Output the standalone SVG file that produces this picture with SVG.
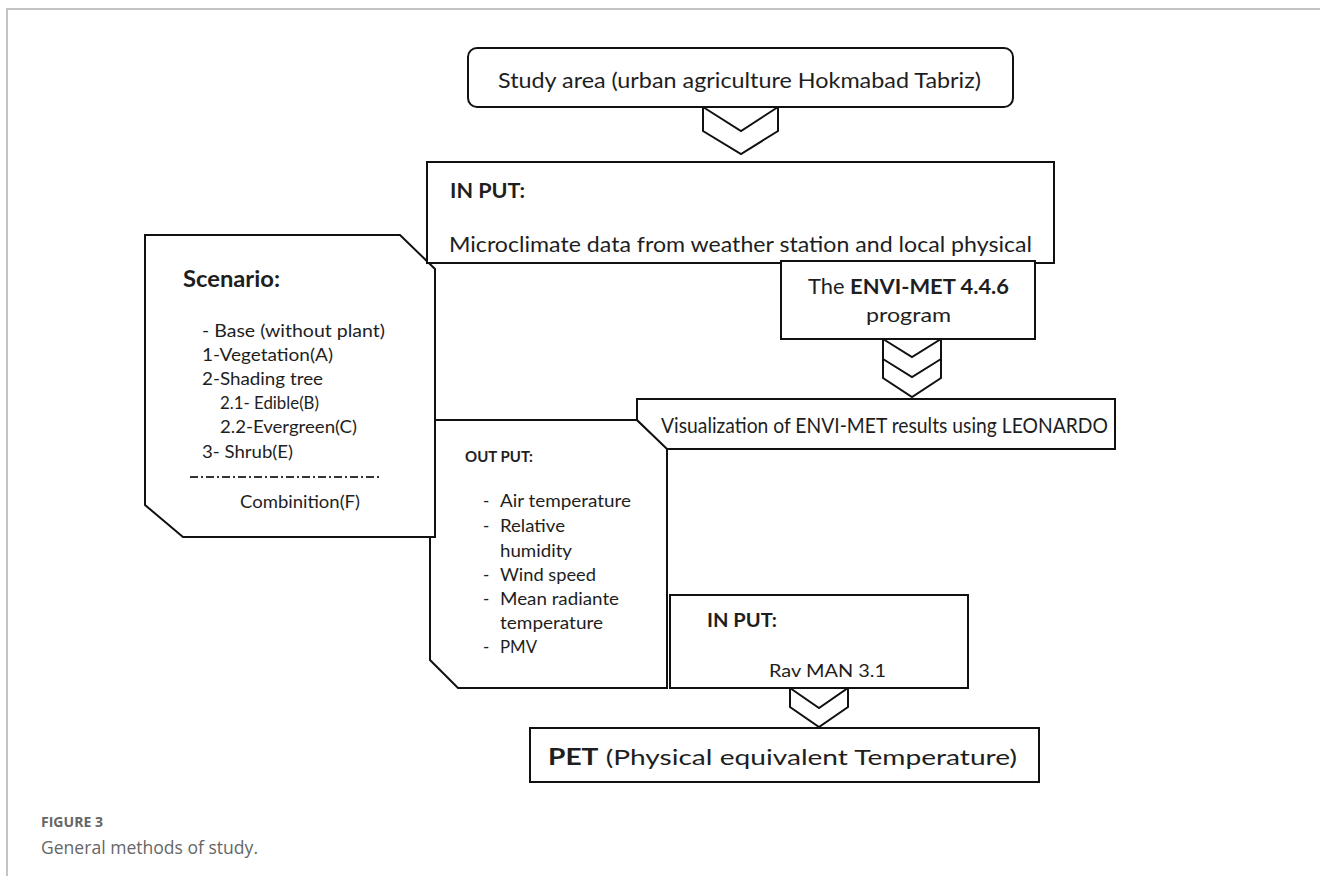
<svg xmlns="http://www.w3.org/2000/svg" width="1320" height="876" viewBox="0 0 1320 876">
<style>
.box{fill:#fff;stroke:#111;stroke-width:2;stroke-linejoin:miter}
.chev{fill:#fff;stroke:#111;stroke-width:2;stroke-linejoin:miter}
.t{font-family:Lato,"Liberation Sans",Arial,sans-serif;fill:#1e1e1e}
.b{font-weight:bold}
.cap{font-family:"Open Sans","Liberation Sans",sans-serif;fill:#666}
</style>
<rect width="1320" height="876" fill="#fff"/>
<path d="M7,876 V9 H1320" fill="none" stroke="#c4c4c4" stroke-width="2"/>

<g id="connectors">
<polygon class="chev" points="703,107 741,131 778,107 778,131 741,154 703,131"/>
<polygon class="chev" points="883,339 912,357 941,339 941,378 912,397 883,378"/>
<polyline class="chev" fill="none" points="883,359 912,377 941,359"/>
<polygon class="chev" points="790,688 819,708 848,688 848,707 819,727 790,707"/>
</g>

<g id="study">
<rect class="box" x="468" y="48" width="545" height="59" rx="9"/>
<text class="t" x="498" y="88" font-size="22" textLength="483" lengthAdjust="spacingAndGlyphs">Study area (urban agriculture Hokmabad Tabriz)</text>
</g>

<g id="scenario">
<polygon class="box" points="145,235 400,235 435,269 435,537 183,537 145,505"/>
<text class="t b" x="183" y="287" font-size="22" textLength="97" lengthAdjust="spacingAndGlyphs">Scenario:</text>
<text class="t" x="202" y="337" font-size="17" textLength="183" lengthAdjust="spacingAndGlyphs">-  Base (without plant)</text>
<text class="t" x="202" y="361" font-size="17" textLength="131" lengthAdjust="spacingAndGlyphs">1-Vegetation(A)</text>
<text class="t" x="202" y="385" font-size="17" textLength="121" lengthAdjust="spacingAndGlyphs">2-Shading tree</text>
<text class="t" x="220" y="409" font-size="17" textLength="99" lengthAdjust="spacingAndGlyphs">2.1- Edible(B)</text>
<text class="t" x="220" y="433" font-size="17" textLength="137" lengthAdjust="spacingAndGlyphs">2.2-Evergreen(C)</text>
<text class="t" x="202" y="458" font-size="17" textLength="91" lengthAdjust="spacingAndGlyphs">3- Shrub(E)</text>
<line x1="190" y1="477" x2="380" y2="477" stroke="#333" stroke-width="2" stroke-dasharray="8,3,2,3"/>
<text class="t" x="240" y="508" font-size="17" textLength="120" lengthAdjust="spacingAndGlyphs">Combinition(F)</text>
</g>

<g id="input">
<rect class="box" x="427" y="162" width="627" height="101"/>
<text class="t b" x="450" y="198" font-size="20" textLength="75" lengthAdjust="spacingAndGlyphs">IN PUT:</text>
<text class="t" x="449" y="252" font-size="22" textLength="583" lengthAdjust="spacingAndGlyphs">Microclimate data from weather station and local physical</text>
</g>

<g id="envimet">
<rect class="box" x="781" y="261" width="254" height="78"/>
<text class="t" x="808" y="294" font-size="21" textLength="201" lengthAdjust="spacingAndGlyphs">The <tspan class="b">ENVI-MET 4.4.6</tspan></text>
<text class="t" x="866" y="322" font-size="20" textLength="85" lengthAdjust="spacingAndGlyphs">program</text>
</g>

<g id="output">
<polyline class="box" points="436,420 637,420 667,448 667,688 458,688 430,660 430,537 436,537"/>
<text class="t b" x="465" y="462" font-size="15" textLength="68" lengthAdjust="spacingAndGlyphs">OUT PUT:</text>
<g class="t" font-size="17">
<text x="483" y="507">-</text><text x="500" y="507" textLength="131" lengthAdjust="spacingAndGlyphs">Air temperature</text>
<text x="483" y="532">-</text><text x="500" y="532" textLength="65" lengthAdjust="spacingAndGlyphs">Relative</text>
<text x="500" y="557" textLength="72" lengthAdjust="spacingAndGlyphs">humidity</text>
<text x="483" y="581">-</text><text x="500" y="581" textLength="96" lengthAdjust="spacingAndGlyphs">Wind speed</text>
<text x="483" y="605">-</text><text x="500" y="605" textLength="119" lengthAdjust="spacingAndGlyphs">Mean radiante</text>
<text x="500" y="629" textLength="103" lengthAdjust="spacingAndGlyphs">temperature</text>
<text x="483" y="653">-</text><text x="500" y="653" textLength="37" lengthAdjust="spacingAndGlyphs">PMV</text>
</g>
</g>

<g id="visualization">
<polygon class="box" points="637,399 1115,399 1115,449 667,449 637,420"/>
<text class="t" x="661" y="433" font-size="22" textLength="447" lengthAdjust="spacingAndGlyphs">Visualization of ENVI-MET results using LEONARDO</text>
</g>

<g id="rayman">
<rect class="box" x="670" y="595" width="298" height="93"/>
<text class="t b" x="707" y="627" font-size="18" textLength="70" lengthAdjust="spacingAndGlyphs">IN PUT:</text>
<text class="t" x="769" y="677" font-size="18" textLength="117" lengthAdjust="spacingAndGlyphs">Rav MAN 3.1</text>
</g>

<g id="pet">
<rect class="box" x="530" y="728" width="509" height="54"/>
<text class="t" x="548" y="765" font-size="22" textLength="469" lengthAdjust="spacingAndGlyphs"><tspan class="b">PET</tspan> (Physical equivalent Temperature)</text>
</g>

<g id="caption">
<text class="cap" x="41" y="827" font-size="14" font-weight="bold" textLength="62" lengthAdjust="spacingAndGlyphs">FIGURE 3</text>
<text class="cap" x="41" y="854" font-size="19" textLength="217" lengthAdjust="spacingAndGlyphs">General methods of study.</text>
</g>
</svg>
